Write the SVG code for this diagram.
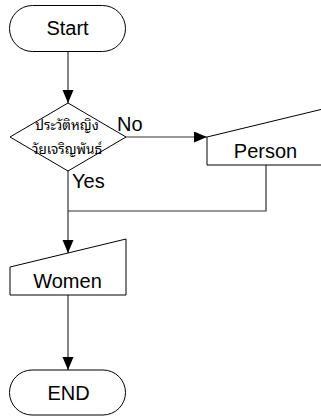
<svg xmlns="http://www.w3.org/2000/svg" width="321" height="419" viewBox="0 0 321 419">
  <style>
    .shape { fill: #ffffff; stroke: #000000; stroke-width: 1; }
    .label { font-family: "Liberation Sans", Arial, sans-serif; font-size: 20px; fill: #000000; text-anchor: middle; }
    .edge-label { font-family: "Liberation Sans", Arial, sans-serif; font-size: 20px; fill: #000000; }
    .thai { font-family: "Noto Sans Thai Looped", "Noto Serif Thai", "Noto Sans Thai", "DejaVu Sans", sans-serif; font-size: 13.5px; fill: #000000; text-anchor: middle; }
    .conn { fill: none; stroke: #333333; stroke-width: 1.2; }
  </style>
  <defs>
    <marker id="arrow" markerUnits="userSpaceOnUse" markerWidth="14" markerHeight="12" refX="13" refY="5.5" orient="auto">
      <path d="M0,0 L13,5.5 L0,11 z" fill="#000000"/>
    </marker>
  </defs>

  <rect width="321" height="419" fill="#ffffff"/>

  <g id="connectors">
    <path class="conn" d="M68,52 L68,103" marker-end="url(#arrow)"/>
    <path class="conn" d="M126,137 L207,137" marker-end="url(#arrow)"/>
    <path class="conn" d="M68,171 L68,253" marker-end="url(#arrow)"/>
    <path class="conn" d="M266,165 L266,211 L68,211"/>
    <path class="conn" d="M68,295 L68,370" marker-end="url(#arrow)"/>
  </g>

  <g id="start">
    <rect class="shape" x="9.5" y="5.5" width="116" height="46" rx="23" ry="23"/>
    <text class="label" x="67.5" y="35">Start</text>
  </g>

  <g id="decision">
    <polygon class="shape" points="68,103 126,137 68,171 10,137"/>
    <text class="thai" x="67" y="130">ประวัติหญิง</text>
    <text class="thai" x="67" y="154">วัยเจริญพันธ์</text>
  </g>

  <g id="person">
    <polygon class="shape" points="207,137 323,109 323,165 207,165"/>
    <text class="label" x="265.5" y="158">Person</text>
  </g>

  <g id="women">
    <polygon class="shape" points="10,267 126,239 126,295 10,295"/>
    <text class="label" x="67.5" y="288">Women</text>
  </g>

  <g id="end">
    <rect class="shape" x="9.5" y="370" width="116" height="45" rx="22.5" ry="22.5"/>
    <text class="label" x="68.5" y="400">END</text>
  </g>

  <g id="edge-labels">
    <text class="edge-label" x="117" y="131">No</text>
    <text class="edge-label" x="72" y="188">Yes</text>
  </g>
</svg>
